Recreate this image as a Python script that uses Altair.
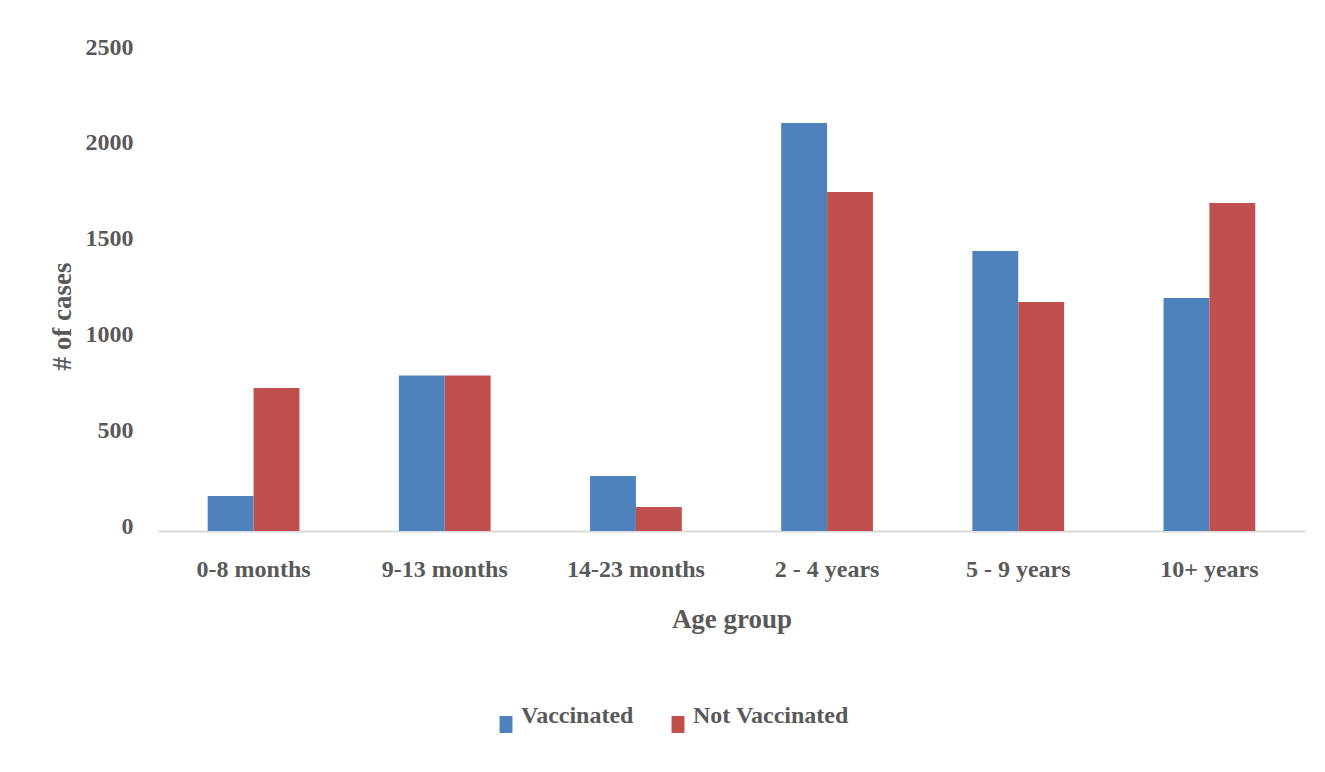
import altair as alt
import pandas as pd

groups = ["0-8 months", "9-13 months", "14-23 months", "2 - 4 years", "5 - 9 years", "10+ years"]
series = ["Vaccinated", "Not Vaccinated"]
vaccinated = [183, 812, 287, 2129, 1461, 1216]
not_vaccinated = [746, 812, 125, 1769, 1195, 1712]
y_ticks = [0, 500, 1000, 1500, 2000, 2500]
colors = ["#4F81BD", "#C0504D"]

rows = []
for g, v, n in zip(groups, vaccinated, not_vaccinated):
    rows.append({"group": g, "status": series[0], "cases": v})
    rows.append({"group": g, "status": series[1], "cases": n})
df = pd.DataFrame(rows)

FONT = "Liberation Serif"
GREY = "#595959"

chart = alt.Chart(df).mark_bar().encode(
    x=alt.X("group:N", sort=groups,
            scale=alt.Scale(paddingInner=0.52, paddingOuter=0.26),
            axis=alt.Axis(title="Age group", labelAngle=0, ticks=False,
                          domainColor="#D9D9D9", domainWidth=2,
                          labelPadding=26, titlePadding=25,
                          labelFont=FONT, labelFontSize=24, labelFontWeight="bold", labelColor=GREY,
                          titleFont=FONT, titleFontSize=27, titleFontWeight="bold", titleColor=GREY)),
    xOffset=alt.XOffset("status:N", sort=series),
    y=alt.Y("cases:Q", scale=alt.Scale(domain=[0, 2500], nice=False),
            axis=alt.Axis(title="# of cases", values=y_ticks, format="d", grid=False, domain=False, ticks=False,
                          labelPadding=25, labelOffset=-5, titlePadding=9, titleY=264,
                          labelFont=FONT, labelFontSize=24, labelFontWeight="bold", labelColor=GREY,
                          titleFont=FONT, titleFontSize=27, titleFontWeight="bold", titleColor=GREY)),
    color=alt.Color("status:N", sort=series,
                    scale=alt.Scale(domain=series, range=colors),
                    legend=alt.Legend(title=None, orient="none", direction="horizontal",
                                      legendX=336, legendY=652,
                                      symbolType="M-0.76,0 h1.52 v2 h-1.52 Z",
                                      symbolSize=289, symbolStrokeWidth=0,
                                      labelFont=FONT, labelFontSize=24, labelFontWeight="bold",
                                      labelColor=GREY, labelOffset=3, columnPadding=32)),
).properties(
    width=1147, height=479,
    autosize=alt.AutoSizeParams(type="none"),
    padding={"left": 150, "top": 44, "right": 10, "bottom": 230},
).configure_view(stroke=None)

chart.save("out.html", embed_options={"renderer": "svg", "actions": False})
